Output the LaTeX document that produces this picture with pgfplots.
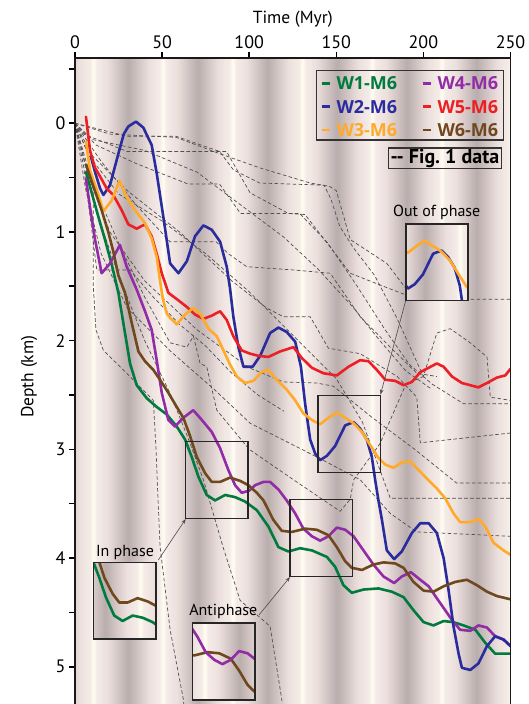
\documentclass[border=0pt]{standalone}
\usepackage{fontspec}
\setmainfont{PT Sans}
\newfontfamily\legfont{Open Sans}
\usepackage{pgfplots}
\pgfplotsset{compat=1.18}
\usepackage{pgfplotstable}
\usetikzlibrary{arrows.meta}

\definecolor{cW1}{RGB}{0,122,62}
\definecolor{cW2}{RGB}{42,44,158}
\definecolor{cW3}{RGB}{255,170,40}
\definecolor{cW4}{RGB}{146,44,166}
\definecolor{cW5}{RGB}{237,30,36}
\definecolor{cW6}{RGB}{112,72,30}
\definecolor{bgW}{RGB}{255,253,242}
\definecolor{bgA}{RGB}{244,235,231}
\definecolor{bgB}{RGB}{236,224,221}
\definecolor{bgC}{RGB}{211,198,197}
\definecolor{bgD}{RGB}{185,173,173}
\definecolor{dgray}{RGB}{80,80,80}

\pgfdeclarehorizontalshading{stripes}{100bp}{color(0bp)=(bgD); color(23.1bp)=(bgD); color(24.3bp)=(bgC); color(25.5bp)=(bgB); color(26.7bp)=(bgA); color(27.1bp)=(bgW);
color(27.5bp)=(bgA); color(28.7bp)=(bgB); color(29.9bp)=(bgC); color(31.1bp)=(bgD); color(32.3bp)=(bgC); color(33.5bp)=(bgB); color(34.7bp)=(bgA); color(35.1bp)=(bgW);
color(35.5bp)=(bgA); color(36.7bp)=(bgB); color(37.9bp)=(bgC); color(39.1bp)=(bgD); color(40.3bp)=(bgC); color(41.5bp)=(bgB); color(42.7bp)=(bgA); color(43.1bp)=(bgW);
color(43.5bp)=(bgA); color(44.7bp)=(bgB); color(45.9bp)=(bgC); color(47.1bp)=(bgD); color(48.3bp)=(bgC); color(49.5bp)=(bgB); color(50.7bp)=(bgA); color(51.1bp)=(bgW);
color(51.5bp)=(bgA); color(52.7bp)=(bgB); color(53.9bp)=(bgC); color(55.1bp)=(bgD); color(56.3bp)=(bgC); color(57.5bp)=(bgB); color(58.7bp)=(bgA); color(59.1bp)=(bgW);
color(59.5bp)=(bgA); color(60.7bp)=(bgB); color(61.9bp)=(bgC); color(63.1bp)=(bgD); color(64.3bp)=(bgC); color(65.5bp)=(bgB); color(66.7bp)=(bgA); color(67.1bp)=(bgW);
color(67.5bp)=(bgA); color(68.7bp)=(bgB); color(69.9bp)=(bgC); color(71.1bp)=(bgD); color(72.3bp)=(bgC); color(73.5bp)=(bgB); color(74.7bp)=(bgA); color(75.1bp)=(bgW);
color(75.5bp)=(bgA); color(76.7bp)=(bgB); color(100bp)=(bgB)}

% ---------- model curves ----------
\pgfplotstableread{
t d
6.3 0.45
9.6 0.64
13.4 0.86
17.2 1.07
21.1 1.30
24.9 1.56
28.7 1.93
31.6 2.21
35.4 2.41
41.2 2.53
46.9 2.61
52.7 2.68
58.4 2.79
63.2 2.91
67.0 3.07
70.8 3.25
75.6 3.42
80.4 3.47
86.2 3.42
91.9 3.44
97.6 3.48
104.4 3.56
111.0 3.71
116.8 3.90
122.5 3.94
129.2 3.91
136.0 3.93
144.6 3.99
149.3 4.08
154.1 4.25
158.9 4.32
165.6 4.29
174.2 4.28
181.9 4.31
188.6 4.36
194.3 4.48
200.1 4.59
205.8 4.62
211.6 4.58
217.3 4.59
223.0 4.62
229.8 4.66
235.5 4.78
241.2 4.88
246.0 4.88
250.0 4.88
}\Wone
\pgfplotstableread{
t d
9.0 0.30
11.5 0.45
14.4 0.60
16.3 0.66
20.1 0.57
24.9 0.28
28.0 0.10
30.6 0.03
35.0 -0.015
39.2 0.04
44.0 0.20
46.9 0.46
50.7 0.86
54.6 1.29
59.4 1.38
64.2 1.27
68.9 1.04
73.7 0.94
78.5 0.98
83.3 1.09
87.1 1.32
89.0 1.52
90.9 1.78
93.8 2.06
96.7 2.24
102.0 2.24
106.3 2.14
112.0 1.93
116.8 1.88
121.5 1.92
126.4 2.01
129.7 2.24
132.1 2.58
135.0 2.91
137.9 3.04
140.7 3.10
144.6 3.06
149.3 2.97
155.1 2.78
159.9 2.75
163.7 2.81
167.5 2.91
170.4 3.07
172.3 3.28
174.2 3.47
176.2 3.65
179.0 3.93
183.2 4.01
187.6 3.94
193.4 3.77
198.2 3.68
203.0 3.68
207.7 3.77
211.6 4.00
214.4 4.29
217.3 4.63
220.2 4.88
222.1 5.01
226.9 5.03
231.6 4.97
236.5 4.81
241.2 4.72
246.0 4.75
250.0 4.81
}\Wtwo
\pgfplotstableread{
t d
6.3 0.17
8.6 0.43
12.5 0.61
16.3 0.81
21.1 0.71
25.5 0.53
29.7 0.68
34.5 0.80
40.2 0.92
44.0 1.06
46.9 1.23
48.8 1.45
50.5 1.62
52.7 1.75
54.6 1.79
58.4 1.85
63.2 1.76
67.9 1.70
71.8 1.75
76.6 1.89
81.4 1.96
85.2 2.09
89.0 2.22
92.9 2.33
97.6 2.39
102.4 2.37
107.2 2.29
111.0 2.27
115.8 2.36
121.5 2.45
126.4 2.55
131.1 2.67
136.0 2.73
140.7 2.77
145.5 2.71
150.3 2.66
155.1 2.71
159.9 2.76
164.7 2.84
169.4 2.96
174.2 3.08
178.1 3.14
182.8 3.17
187.6 3.12
192.4 3.11
197.2 3.19
202.0 3.27
207.7 3.36
212.5 3.45
217.3 3.59
221.1 3.67
226.9 3.67
231.6 3.64
235.5 3.71
240.3 3.86
246.0 3.93
250.0 3.97
}\Wthree
\pgfplotstableread{
t d
6.3 0.51
8.6 0.77
11.5 1.07
15.3 1.38
20.1 1.29
25.8 1.12
29.7 1.32
35.4 1.53
40.2 1.73
44.0 1.90
46.9 2.18
49.8 2.48
53.6 2.73
57.4 2.79
62.2 2.71
67.9 2.64
72.8 2.73
78.5 2.84
83.3 2.99
88.0 3.19
91.9 3.33
95.7 3.40
100.0 3.38
103.4 3.33
108.2 3.30
112.0 3.30
116.8 3.37
121.5 3.47
126.4 3.59
131.1 3.73
136.0 3.80
140.7 3.84
145.5 3.80
150.3 3.72
155.1 3.74
159.9 3.80
165.6 3.93
171.3 4.06
177.1 4.17
183.2 4.23
187.6 4.17
192.8 4.13
198.2 4.20
203.0 4.26
207.7 4.37
212.5 4.48
216.4 4.57
221.1 4.66
226.9 4.67
231.6 4.62
236.5 4.64
241.2 4.72
246.0 4.75
250.0 4.81
}\Wfour
\pgfplotstableread{
t d
6.3 -0.06
8.6 0.25
11.5 0.41
14.4 0.49
18.2 0.60
22.0 0.66
26.8 0.80
30.6 0.93
35.4 0.97
40.2 0.93
44.0 1.04
46.9 1.20
49.8 1.38
53.6 1.56
59.4 1.63
64.2 1.69
68.9 1.76
73.7 1.80
78.5 1.77
83.3 1.73
87.1 1.81
90.9 1.96
95.7 2.09
100.5 2.12
105.3 2.14
111.0 2.15
117.7 2.10
125.4 2.06
130.2 2.16
136.0 2.25
142.6 2.30
150.3 2.32
157.0 2.24
163.7 2.18
168.5 2.19
173.3 2.27
178.1 2.36
183.8 2.37
188.6 2.41
193.4 2.38
198.2 2.29
203.0 2.25
207.7 2.21
211.6 2.24
216.4 2.33
222.1 2.39
226.9 2.41
231.6 2.43
236.5 2.39
242.2 2.34
247.0 2.32
250.0 2.26
}\Wfive
\pgfplotstableread{
t d
6.3 0.38
10.5 0.58
15.3 0.80
19.1 1.00
22.0 1.18
24.9 1.40
28.7 1.56
32.6 1.84
36.4 2.10
40.2 2.19
45.0 2.27
48.8 2.36
53.6 2.48
58.4 2.61
62.2 2.71
66.1 2.88
69.9 3.07
74.7 3.22
78.5 3.30
83.3 3.30
89.0 3.26
94.8 3.29
99.5 3.33
104.4 3.40
108.2 3.47
113.9 3.65
118.7 3.75
124.5 3.76
132.1 3.73
138.8 3.74
145.5 3.79
150.3 3.90
155.1 4.03
158.9 4.09
164.7 4.11
171.3 4.06
177.1 4.04
183.8 4.05
188.6 4.09
194.3 4.22
200.1 4.30
205.8 4.31
211.6 4.26
218.3 4.22
225.0 4.20
230.7 4.25
236.5 4.31
242.2 4.35
250.0 4.38
}\Wsix

\pgfplotsset{
  curve/.style={line width=2.6pt, line join=round, line cap=round},
  dashln/.style={dgray, line width=0.7pt, dash pattern=on 3.6pt off 2.4pt, forget plot},
  inset/.style={scale only axis, anchor=north west, y dir=reverse,
    xtick=\empty, ytick=\empty, axis on top, clip=true,
    axis line style={line width=1.6pt, black!85}},
}
\newcommand{\bgshade}{\shade[shading=stripes] (axis cs:0,-1) rectangle (axis cs:250,6);}
\newcommand{\legent}[2]{\textcolor{#1}{\rule[5.2pt]{8.3pt}{2.7pt}\hspace{6.5pt}#2}}

\begin{document}
\begin{tikzpicture}
\useasboundingbox (0,0) rectangle (529pt,-704pt);
\begin{axis}[
  at={(75pt,-58pt)}, anchor=north west,
  scale only axis, width=435.5pt, height=647.5pt,
  xmin=0, xmax=250, ymin=-0.6, ymax=5.357, y dir=reverse,
  axis on top,
  xtick={0,50,...,250}, xtick pos=right, xticklabel pos=right,
  ytick={0,1,...,5}, minor ytick={-0.5,0.5,1.5,2.5,3.5,4.5}, ytick pos=left,
  tick align=outside, major tick length=6pt, minor tick length=6pt,
  tick style={black, line width=1.6pt},
  axis line style={line width=1.6pt, black!90},
  /pgf/number format/assume math mode=true,
  ticklabel style={font=\fontsize{18}{20}\selectfont},
  label style={font=\fontsize{17.5}{20}\selectfont},
  xlabel={Time (Myr)},
  xlabel style={at={(axis description cs:0.5,1)}, anchor=base, yshift=35pt},
  ylabel={Depth (km)},
  ylabel style={at={(axis description cs:-0.1056,0.5077)}, anchor=center},
]
\bgshade
% ---- Fig. 1 data (dashed) ----
\addplot[dashln] coordinates {(0,0)(20,0.10)(58,0.13)(83,0.28)(106,0.41)(135,0.55)(146,0.58)(150,0.62)(158,1.07)(179,1.29)(189,1.50)(195,1.62)(250,1.62)};
\addplot[dashln] coordinates {(0,0)(30,0.12)(58,0.12)(83,0.26)(91,0.43)(106,0.55)(143,0.57)(147,0.70)(152,0.95)(160,1.15)(172,1.40)(185,1.80)(200,2.33)(207.7,1.93)(215.4,1.89)(226.9,2.02)(236.5,2.15)(238.4,2.52)(250,2.55)};
\addplot[dashln] coordinates {(0,0)(15,0.35)(35,0.75)(54.5,1.09)(81,1.09)(88,1.20)(98.6,1.32)(125.4,1.35)(146.5,1.38)(163.7,1.78)(181,2.06)(196.2,2.30)(207.7,2.33)};
\addplot[dashln] coordinates {(0,0)(12,0.2)(35,0.37)(65,0.56)(83,0.56)(95,0.83)(129,0.83)(145,1.10)(162,1.50)(178,1.90)(192,2.22)(205,2.40)(223,2.58)(250,2.58)};
\addplot[dashln] coordinates {(0,0)(10,0.3)(30,0.62)(60,1.00)(90,1.45)(110,1.70)(119.6,1.78)(135,1.78)(145.5,2.07)(163.7,2.12)(185,2.33)(196.2,2.52)(198.2,2.94)(250,2.85)};
\addplot[dashln] coordinates {(0,0)(8,0.5)(20,1.0)(40,1.45)(70,1.9)(100,2.25)(119.6,2.38)(138.8,2.39)(148.4,2.42)(170,2.7)(195,3.0)(219,3.31)(250,3.31)};
\addplot[dashln] coordinates {(0,0)(6,0.6)(15,1.2)(30,1.7)(55,2.1)(80,2.45)(100.5,2.76)(138.8,3.07)(163.7,3.28)(181,3.59)(196.2,3.76)(250,3.80)};
\addplot[dashln] coordinates {(0,0)(6.7,0.25)(10.5,0.6)(10.5,1.5)(12,1.9)(16.3,2.09)(29.7,2.30)(45,2.55)(46.5,3.0)(47.5,3.4)(48.8,3.89)(54.6,4.66)(62.2,5.30)(62.5,5.36)};
\addplot[dashln] coordinates {(0,0)(10,0.55)(25,1.1)(40,1.6)(54.6,2.02)(64.2,2.06)(68,1.96)(71.8,2.21)(75.6,2.24)(81.4,2.64)(100,3.0)(125.4,3.28)(152.2,3.57)(158,3.46)(160,3.28)(175,2.95)(190,2.40)(200,2.33)};
\addplot[dashln] coordinates {(0,0)(12,0.8)(25,1.4)(40,2.0)(55,2.5)(65,2.9)(73.7,3.28)(85,3.9)(94.8,4.39)(110,4.60)(112,4.63)(118.7,5.30)(119,5.36)};
\addplot[dashln] coordinates {(0,0)(10,0.15)(40,0.25)(70,0.45)(95,0.75)(120,1.05)(140,1.35)(160,1.70)(175,2.00)(190,2.28)(205,2.45)};
\addplot[dashln] coordinates {(0,0)(5,0.1)(30,0.26)(87,0.26)(100.5,0.64)(122.5,0.83)(132,0.84)(144.6,1.10)(158,1.38)(177,1.50)(190,1.58)};
\addplot[dashln] coordinates {(0,0)(8,0.3)(25,0.65)(50,0.9)(75,1.2)(100,1.55)(125,1.95)(150,2.35)(165,2.75)(181,3.45)(250,3.45)};
\addplot[dashln] coordinates {(0,0)(5,0.4)(9,0.9)(12.5,1.35)(31.6,1.35)(45,1.6)(60,1.85)(75,2.05)(90,2.3)(105,2.5)(120,2.65)};
% ---- model curves ----
\addplot[curve, cW1] table[x=t,y=d] {\Wone};
\addplot[curve, cW4] table[x=t,y=d] {\Wfour};
\addplot[curve, cW2] table[x=t,y=d] {\Wtwo};
\addplot[curve, cW5] table[x=t,y=d] {\Wfive};
\addplot[curve, cW3] table[x=t,y=d] {\Wthree};
\addplot[curve, cW6] table[x=t,y=d] {\Wsix};
% ---- source boxes ----
\draw[black!85, line width=1.4pt] (axis cs:63.6,2.93) rectangle (axis cs:99.4,3.635);
\draw[black!85, line width=1.4pt] (axis cs:123.4,3.459) rectangle (axis cs:159.4,4.171);
\draw[black!85, line width=1.4pt] (axis cs:139.4,2.506) rectangle (axis cs:175.2,3.211);
\end{axis}

% ---- In phase inset ----
\begin{axis}[inset, at={(93.3pt,-562.3pt)}, width=62.4pt, height=76.6pt,
  xmin=63.6, xmax=99.4, ymin=2.93, ymax=3.635]
\bgshade
\addplot[curve, cW6] table[x=t,y=d] {\Wsix};
\addplot[curve, cW1] table[x=t,y=d] {\Wone};
\end{axis}
% ---- Antiphase inset ----
\begin{axis}[inset, at={(192.3pt,-622.7pt)}, width=62.7pt, height=77.4pt,
  xmin=123.4, xmax=159.4, ymin=3.459, ymax=4.171]
\bgshade
\addplot[curve, cW6] table[x=t,y=d] {\Wsix};
\addplot[curve, cW4] table[x=t,y=d] {\Wfour};
\end{axis}
% ---- Out of phase inset ----
\begin{axis}[inset, at={(405.7pt,-224pt)}, width=62.4pt, height=76.6pt,
  xmin=139.4, xmax=175.2, ymin=2.506, ymax=3.211]
\bgshade
\addplot[curve, cW2] table[x=t,y=d] {\Wtwo};
\addplot[curve, cW3] table[x=t,y=d] {\Wthree};
\end{axis}

% ---- legend ----
\draw[black!80, line width=1.2pt] (316.7pt,-70.7pt) rectangle (503.3pt,-140pt);
\begin{scope}[every node/.style={anchor=base west, inner sep=0pt, font=\legfont\bfseries\fontsize{18}{20}\selectfont}]
\node at (321.5pt,-89.7pt) {\legent{cW1}{W1-M6}};
\node at (321.5pt,-113.1pt) {\legent{cW2}{W2-M6}};
\node at (321.5pt,-136.4pt) {\legent{cW3}{W3-M6}};
\node at (422.5pt,-89.7pt) {\legent{cW4}{W4-M6}};
\node at (422.5pt,-113.1pt) {\legent{cW5}{W5-M6}};
\node at (422.5pt,-136.4pt) {\legent{cW6}{W6-M6}};
\end{scope}

% ---- annotations ----
\node[draw=black!80, line width=1.2pt, font=\bfseries\fontsize{20}{22}\selectfont, inner xsep=2.5pt, inner ysep=1pt, anchor=north east] at (502.3pt,-147.3pt) {-{}- Fig.~1 data};
\node[font=\fontsize{16}{18}\selectfont, anchor=base] at (125pt,-556pt) {In phase};
\node[font=\fontsize{16}{18}\selectfont, anchor=base] at (223.3pt,-615pt) {Antiphase};
\node[font=\fontsize{16}{18}\selectfont, anchor=base] at (436.7pt,-216pt) {Out of phase};
\draw[black!70, line width=0.6pt, -{Stealth[length=5pt,width=3.5pt]}] (158.3pt,-560pt) -- (185.7pt,-519pt);
\draw[black!70, line width=0.6pt, -{Stealth[length=5pt,width=3.5pt]}] (259pt,-615pt) -- (290pt,-577pt);
\draw[black!70, line width=0.6pt, -{Stealth[length=5pt,width=3.5pt]}] (405.7pt,-300.7pt) -- (380.5pt,-394.5pt);
\end{tikzpicture}
\end{document}
